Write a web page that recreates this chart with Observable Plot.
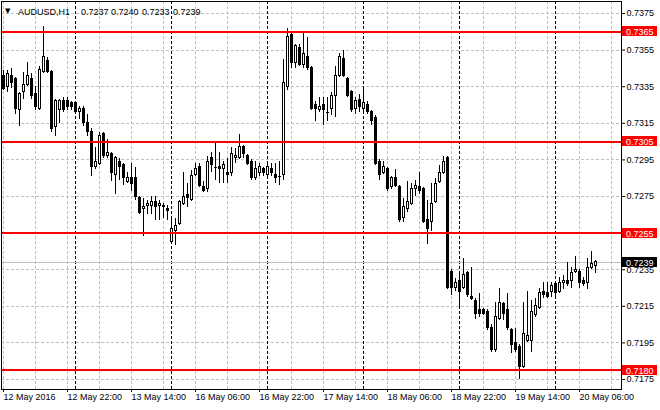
<!DOCTYPE html>
<html><head><meta charset="utf-8">
<script src="https://cdn.jsdelivr.net/npm/d3@7"></script>
<script src="https://cdn.jsdelivr.net/npm/@observablehq/plot@0.6"></script>
<style>
html,body{margin:0;padding:0;background:#fff;}
#chart{width:660px;height:410px;overflow:hidden;}
svg{display:block;}
</style></head><body><div id="chart"></div>
<script>
const symbol = "AUDUSD,H1";
const lastOHLC = ["0.7237", "0.7240", "0.7233", "0.7239"];

const open = [0.7341,0.7335,0.7341,0.7339,0.7322,0.7332,0.7336,0.7339,0.7331,0.7323,
0.7343,0.7349,0.7343,0.7313,0.7322,0.7327,0.7327,0.7326,0.7326,0.7321,
0.7323,0.7315,0.7310,0.7291,0.7293,0.7309,0.7297,0.7298,0.7287,0.7294,
0.7292,0.7283,0.7285,0.7285,0.7274,0.7268,0.7270,0.7270,0.7272,0.7270,
0.7270,0.7268,0.7250,0.7256,0.7260,0.7271,0.7276,0.7273,0.7287,0.7291,
0.7280,0.7279,0.7296,0.7291,0.7291,0.7290,0.7288,0.7288,0.7296,0.7296,
0.7302,0.7297,0.7294,0.7285,0.7288,0.7290,0.7287,0.7290,0.7287,0.7286,
0.7287,0.7335,0.7363,0.7348,0.7356,0.7347,0.7351,0.7345,0.7325,0.7322,
0.7325,0.7321,0.7323,0.7330,0.7341,0.7350,0.7339,0.7332,0.7323,0.7328,
0.7323,0.7325,0.7321,0.7318,0.7294,0.7288,0.7290,0.7280,0.7285,0.7280,
0.7263,0.7268,0.7271,0.7279,0.7280,0.7279,0.7262,0.7261,0.7272,0.7283,
0.7288,0.7296,0.7234,0.7225,0.7229,0.7225,0.7233,0.7220,0.7218,0.7213,
0.7213,0.7212,0.7203,0.7191,0.7208,0.7216,0.7213,0.7202,0.7195,0.7193,
0.7182,0.7196,0.7196,0.7210,0.7214,0.7223,0.7222,0.7223,0.7227,0.7223,
0.7228,0.7229,0.7229,0.7234,0.7234,0.7229,0.7228,0.7236,0.7237];
const high = [0.7344,0.7344,0.7345,0.7340,0.7332,0.7343,0.7348,0.7342,0.7335,0.7346,
0.7368,0.7351,0.7344,0.7328,0.7328,0.7329,0.7329,0.7327,0.7326,0.7324,
0.7324,0.7320,0.7312,0.7302,0.7310,0.7310,0.7306,0.7299,0.7297,0.7296,
0.7293,0.7288,0.7293,0.7291,0.7275,0.7274,0.7273,0.7275,0.7275,0.7273,
0.7271,0.7270,0.7263,0.7263,0.7273,0.7288,0.7282,0.7289,0.7293,0.7293,
0.7283,0.7297,0.7299,0.7305,0.7299,0.7294,0.7296,0.7302,0.7301,0.7309,
0.7303,0.7298,0.7295,0.7294,0.7293,0.7291,0.7293,0.7293,0.7293,0.7294,
0.7350,0.7367,0.7365,0.7358,0.7358,0.7365,0.7362,0.7346,0.7327,0.7329,
0.7329,0.7329,0.7332,0.7346,0.7353,0.7355,0.7340,0.7333,0.7329,0.7331,
0.7335,0.7327,0.7322,0.7319,0.7295,0.7294,0.7291,0.7286,0.7290,0.7281,
0.7274,0.7283,0.7282,0.7284,0.7288,0.7280,0.7273,0.7282,0.7285,0.7292,
0.7297,0.7297,0.7235,0.7230,0.7233,0.7241,0.7234,0.7236,0.7219,0.7222,
0.7214,0.7213,0.7205,0.7217,0.7225,0.7217,0.7222,0.7203,0.7203,0.7194,
0.7217,0.7223,0.7218,0.7219,0.7225,0.7228,0.7228,0.7228,0.7228,0.7231,
0.7232,0.7239,0.7236,0.7242,0.7235,0.7231,0.7241,0.7245,0.7240];
const low = [0.7333,0.7332,0.7334,0.7320,0.7313,0.7328,0.7335,0.7328,0.7322,0.7322,
0.7342,0.7342,0.7310,0.7308,0.7315,0.7321,0.7322,0.7322,0.7320,0.7317,
0.7313,0.7308,0.7286,0.7290,0.7292,0.7296,0.7296,0.7283,0.7276,0.7284,
0.7281,0.7282,0.7278,0.7273,0.7265,0.7253,0.7265,0.7265,0.7262,0.7262,
0.7263,0.7262,0.7249,0.7248,0.7259,0.7270,0.7269,0.7272,0.7286,0.7280,
0.7277,0.7277,0.7288,0.7284,0.7282,0.7282,0.7282,0.7286,0.7293,0.7295,
0.7296,0.7292,0.7284,0.7284,0.7286,0.7286,0.7285,0.7286,0.7282,0.7281,
0.7284,0.7333,0.7345,0.7345,0.7346,0.7345,0.7344,0.7322,0.7316,0.7321,
0.7314,0.7316,0.7319,0.7318,0.7340,0.7340,0.7329,0.7321,0.7320,0.7321,
0.7320,0.7320,0.7314,0.7292,0.7284,0.7287,0.7278,0.7279,0.7280,0.7261,
0.7261,0.7266,0.7270,0.7275,0.7276,0.7260,0.7249,0.7256,0.7271,0.7282,
0.7287,0.7224,0.7221,0.7223,0.7215,0.7224,0.7220,0.7218,0.7208,0.7209,
0.7210,0.7202,0.7190,0.7190,0.7207,0.7207,0.7202,0.7189,0.7190,0.7175,
0.7181,0.7195,0.7190,0.7209,0.7213,0.7219,0.7219,0.7220,0.7220,0.7222,
0.7224,0.7226,0.7225,0.7233,0.7225,0.7226,0.7224,0.7235,0.7233];
const close = [0.7334,0.7342,0.7337,0.7323,0.7331,0.7336,0.7341,0.7330,0.7324,0.7344,
0.7351,0.7343,0.7312,0.7327,0.7327,0.7322,0.7324,0.7324,0.7321,0.7323,
0.7315,0.7310,0.7291,0.7294,0.7308,0.7297,0.7299,0.7288,0.7296,0.7291,
0.7285,0.7285,0.7282,0.7275,0.7266,0.7269,0.7271,0.7272,0.7269,0.7271,
0.7269,0.7267,0.7257,0.7259,0.7272,0.7275,0.7274,0.7286,0.7290,0.7281,
0.7278,0.7294,0.7292,0.7291,0.7290,0.7292,0.7287,0.7298,0.7297,0.7302,
0.7298,0.7293,0.7285,0.7290,0.7291,0.7288,0.7291,0.7288,0.7285,0.7286,
0.7337,0.7362,0.7348,0.7357,0.7347,0.7353,0.7345,0.7323,0.7323,0.7324,
0.7322,0.7321,0.7330,0.7341,0.7351,0.7341,0.7330,0.7322,0.7327,0.7324,
0.7326,0.7321,0.7316,0.7293,0.7287,0.7291,0.7279,0.7285,0.7281,0.7262,
0.7269,0.7272,0.7279,0.7281,0.7278,0.7261,0.7257,0.7271,0.7282,0.7288,
0.7294,0.7225,0.7225,0.7228,0.7223,0.7232,0.7221,0.7219,0.7211,0.7211,
0.7211,0.7203,0.7191,0.7209,0.7217,0.7211,0.7203,0.7194,0.7191,0.7182,
0.7200,0.7199,0.7212,0.7215,0.7222,0.7221,0.7220,0.7226,0.7222,0.7228,
0.7229,0.7227,0.7233,0.7235,0.7228,0.7227,0.7236,0.7238,0.7239];

const timeTickIndex = [0, 16, 32, 48, 64, 80, 96, 112, 128, 144];
const timeTickLabels = ["12 May 2016", "12 May 22:00", "13 May 14:00", "16 May 06:00", "16 May 22:00",
  "17 May 14:00", "18 May 06:00", "18 May 22:00", "19 May 14:00", "20 May 06:00"];
const gridIndex = [0, 8, 16, 24, 32, 40, 48, 56, 64, 72, 80, 88, 96, 104, 112, 120, 128, 136, 144, 152];
const daySeparatorIndex = [18, 42, 66, 90, 114, 138];
const priceTicks = [0.7175, 0.7195, 0.7215, 0.7235, 0.7255, 0.7275, 0.7295, 0.7315, 0.7335, 0.7355, 0.7375];
const levels = [0.7365, 0.7305, 0.7255, 0.7180];
const bid = 0.7239;

const candles = open.map((o, i) => ({i, o, h: high[i], l: low[i], c: close[i]}));

const W = 660, H = 410, mL = 1, mR = 39, mT = 1, mB = 21;
const pxPerUnit = 18300;           // vertical pixels per price unit
const refPrice = 0.7175, refY = 379;
const yTop = refPrice + (refY - mT) / pxPerUnit;
const yBottom = refPrice - (H - mB - refY) / pxPerUnit;
const font = "'Liberation Sans', Arial, sans-serif";
const crisp = "crispEdges";

const plot = Plot.plot({
  width: W, height: H,
  marginLeft: mL, marginRight: mR, marginTop: mT, marginBottom: mB,
  style: {fontFamily: font, fontSize: "9px", background: "white", color: "black", overflow: "visible"},
  x: {domain: [-0.5, 154.5], axis: null, label: null},
  y: {domain: [yBottom, yTop], axis: null, label: null},
  marks: [
    Plot.ruleY(priceTicks, {stroke: "#c0c0c0", strokeDasharray: "3,2", shapeRendering: crisp}),
    Plot.ruleX(gridIndex, {stroke: "#c0c0c0", strokeDasharray: "3,2", shapeRendering: crisp}),
    Plot.ruleX(daySeparatorIndex, {stroke: "black", strokeDasharray: "3,2", shapeRendering: crisp}),
    Plot.ruleY([bid], {stroke: "#c0c0c0", shapeRendering: crisp}),
    Plot.ruleX(candles, {x: "i", y1: "l", y2: "h", stroke: "black", shapeRendering: crisp}),
    Plot.rect(candles.filter(d => d.o !== d.c), {
      x1: d => d.i - 0.25, x2: d => d.i + 0.25, y1: "o", y2: "c",
      fill: d => d.c > d.o ? "white" : "black", stroke: "black", shapeRendering: crisp
    }),
    Plot.ruleY(candles.filter(d => d.o === d.c), {y: "c", x1: d => d.i - 0.375, x2: d => d.i + 0.375, stroke: "black", shapeRendering: crisp}),
    Plot.ruleY(levels, {stroke: "#ff0000", strokeWidth: 2, shapeRendering: crisp}),
    Plot.frame({stroke: "black", shapeRendering: crisp}),
    Plot.axisY(priceTicks, {anchor: "right", label: null, tickSize: 3, tickPadding: 2, tickFormat: d => d.toFixed(4), fontSize: 9}),
    Plot.axisX(timeTickIndex, {
      anchor: "bottom", label: null, tickSize: 3, tickPadding: 1, textAnchor: "start", fontSize: 9,
      tickFormat: d => timeTickLabels[timeTickIndex.indexOf(d)]
    })
  ]
});

const svg = d3.select(plot);
const ys = plot.scale("y");
const g = svg.append("g").attr("font-family", font).attr("font-size", 9).attr("text-anchor", "start");
function addBox(v, color) {
  const y = Math.round(ys.apply(v));
  g.append("rect").attr("x", 622).attr("y", y - 5).attr("width", 35).attr("height", 10).attr("fill", color);
  g.append("text").attr("x", 626).attr("y", y + 3.5).attr("fill", "white").text(v.toFixed(4));
}
levels.forEach(v => addBox(v, "#ff0000"));
addBox(bid, "black");

const t = svg.append("g").attr("font-family", font).attr("font-size", 9).attr("fill", "black").attr("text-anchor", "start");
t.append("text").attr("x", 5).attr("y", 13).attr("font-size", 7).attr("font-family", "'DejaVu Sans'").text("▼");
t.append("text").attr("x", 18).attr("y", 15).text(symbol);
[81, 111, 142, 173].forEach((x, k) => t.append("text").attr("x", x).attr("y", 15).text(lastOHLC[k]));

document.getElementById("chart").appendChild(plot);
</script></body></html>
